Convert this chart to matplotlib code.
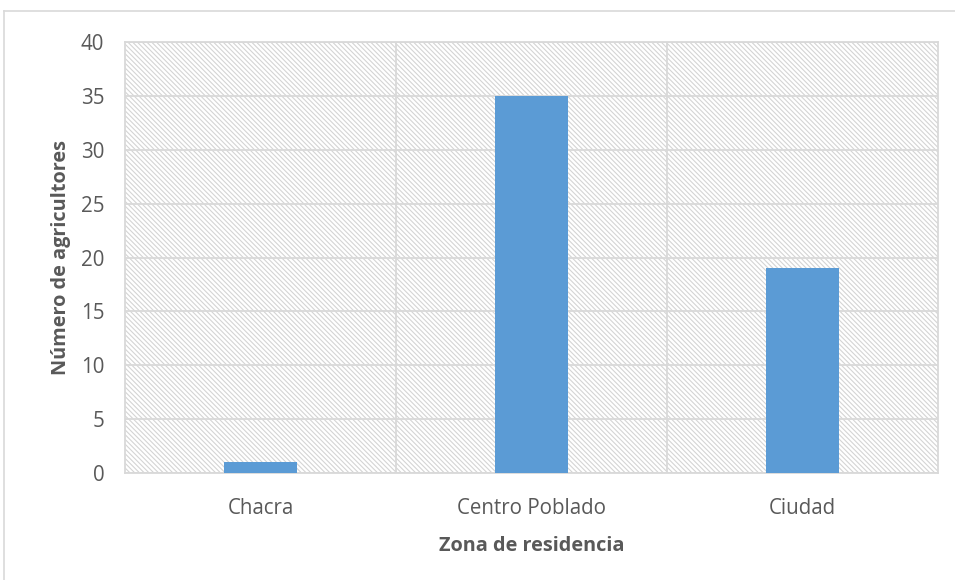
import matplotlib.pyplot as plt
from matplotlib.patches import Rectangle
from matplotlib.lines import Line2D

categories = ["Chacra", "Centro Poblado", "Ciudad"]
values = [1, 35, 19]
yticks = [0, 5, 10, 15, 20, 25, 30, 35, 40]

plt.rcParams['font.family'] = ['Open Sans', 'DejaVu Sans']
plt.rcParams['hatch.linewidth'] = 0.8

fig = plt.figure(figsize=(9.55, 5.8), dpi=100)
ax = fig.add_axes([125/955, 1 - 473/580, (938-125)/955, (473-42)/580])

# hatched background of the plot area
bg = Rectangle((0, 0), 1, 1, transform=ax.transAxes, facecolor='white',
               edgecolor='#d4d4d4', hatch='\\' * 7, linewidth=0, zorder=0)
ax.add_patch(bg)

x = range(len(categories))
ax.bar(x, values, width=0.273, color='#5b9bd5', zorder=3)

ax.set_xlim(-0.5, 2.5)
ax.set_ylim(0, 40)
ax.set_yticks(yticks)
ax.set_xticks(list(x))
ax.set_xticklabels(categories)
for y in yticks:
    ax.axhline(y, color='#d9d9d9', linewidth=1.3, zorder=1)
for xv in [0.5, 1.5]:
    ax.axvline(xv, color='#d9d9d9', linewidth=1.3, zorder=1)
for s in ax.spines.values():
    s.set_color('#d9d9d9')
    s.set_linewidth(1.3)
ax.tick_params(length=0, labelsize=14.8, labelcolor='#595959')
ax.tick_params(axis='x', pad=18)
ax.tick_params(axis='y', pad=15)

ax.set_ylabel("Número de agricultores", fontsize=14.3, fontweight='bold', color='#595959', labelpad=7)
ax.set_xlabel("Zona de residencia", fontsize=14.3, fontweight='bold', color='#595959', labelpad=12)

# outer chart border (top and left visible)
fig.add_artist(Line2D([4/955, 4/955], [0, 1 - 11/580], color='#d9d9d9', linewidth=1.2))
fig.add_artist(Line2D([4/955, 1], [1 - 11/580, 1 - 11/580], color='#d9d9d9', linewidth=1.2))

plt.savefig("out.png", dpi=100)
